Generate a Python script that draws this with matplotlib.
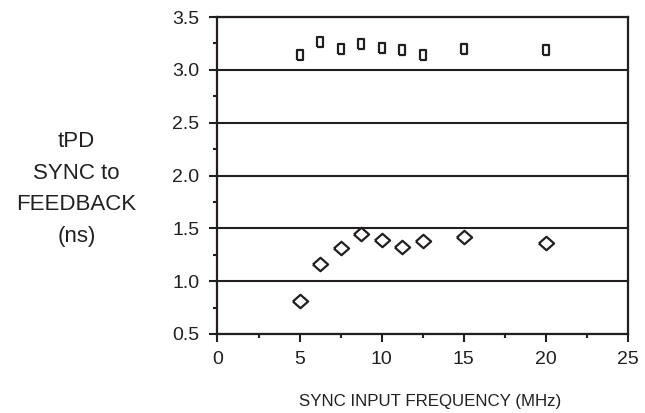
import numpy as np
import matplotlib.pyplot as plt

plt.rcParams['font.family'] = ['Liberation Sans', 'DejaVu Sans']

# sync input frequency (MHz)
freq = [5, 6.25, 7.5, 8.75, 10, 11.25, 12.5, 15, 20]
# upper series (squares) and lower series (diamonds), tPD in ns
tpd_square = [3.14, 3.26, 3.20, 3.24, 3.21, 3.19, 3.14, 3.20, 3.19]
tpd_diamond = [0.81, 1.16, 1.31, 1.45, 1.39, 1.32, 1.38, 1.42, 1.36]

x_ticks = [0, 5, 10, 15, 20, 25]
y_ticks = [0.5, 1.0, 1.5, 2.0, 2.5, 3.0, 3.5]

fig = plt.figure(figsize=(6.45, 4.13), dpi=100)
ax = fig.add_axes([0.3372, 0.1913, 0.6364, 0.7675])

ink = '#231f20'
# slightly tall open box and slightly flat open diamond, as in the original
box = [(-0.36, -0.5), (0.36, -0.5), (0.36, 0.5), (-0.36, 0.5), (-0.36, -0.5)]
diamond = [(-0.5, 0), (0, -0.44), (0.5, 0), (0, 0.44), (-0.5, 0)]

ax.plot(freq, tpd_square, linestyle='none', marker=box, markersize=6.8,
        markerfacecolor='white', markeredgecolor=ink, markeredgewidth=1.6)
ax.plot(freq, tpd_diamond, linestyle='none', marker=diamond, markersize=11,
        markerfacecolor='white', markeredgecolor=ink, markeredgewidth=1.6)

ax.set_xlim(0, 25)
ax.set_ylim(0.5, 3.5)
ax.set_xticks(x_ticks)
ax.set_xticklabels([str(v) for v in x_ticks])
ax.set_yticks(y_ticks)
ax.set_yticklabels(['%.1f' % v for v in y_ticks])
ax.set_xticks(np.arange(0, 25.1, 2.5), minor=True)
ax.set_yticks(np.arange(0.5, 3.51, 0.25), minor=True)

ax.yaxis.grid(True, which='major', color=ink, linewidth=1.5)
ax.set_axisbelow(True)

for side in ['left', 'right', 'top', 'bottom']:
    ax.spines[side].set_linewidth(1.6)
    ax.spines[side].set_color(ink)

ax.tick_params(which='major', direction='out', length=6, width=1.5,
               color=ink, labelsize=14, labelcolor=ink)
ax.tick_params(which='minor', direction='out', length=3, width=1.5, color=ink)
ax.tick_params(axis='y', which='major', pad=7)
ax.tick_params(axis='x', which='major', pad=6)

ax.set_xlabel('SYNC INPUT FREQUENCY (MHz)', fontsize=12.2, color=ink)
ax.xaxis.set_label_coords(0.519, -0.2136)
ax.xaxis.label.set_verticalalignment('center')

fig.text(0.1186, 0.5424, 'tPD\nSYNC to\nFEEDBACK\n(ns)', ha='center', va='center',
         fontsize=16, color=ink, linespacing=1.68)

fig.savefig('out.png', dpi=100)
